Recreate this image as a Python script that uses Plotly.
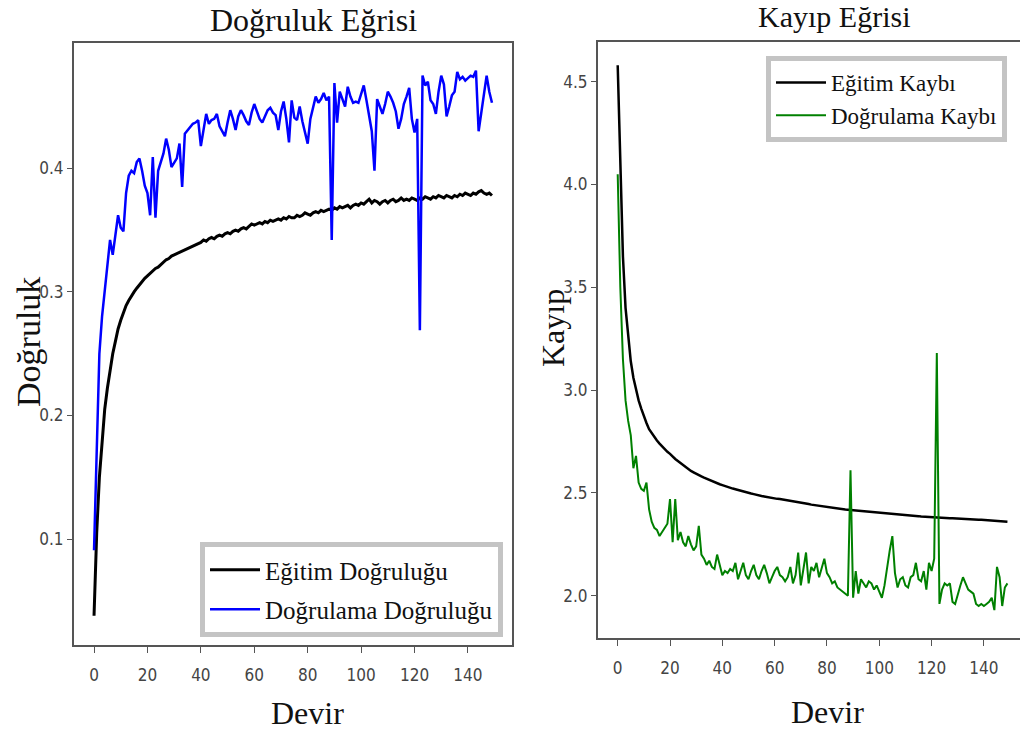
import plotly.graph_objects as go

# ---------------- data ----------------
epochs = list(range(150))

train_acc = [
    0.038, 0.105, 0.150, 0.182, 0.205, 0.222, 0.237, 0.250, 0.260, 0.270,
    0.277, 0.284, 0.289, 0.293, 0.297, 0.300, 0.303, 0.306, 0.309, 0.311,
    0.313, 0.315, 0.317, 0.319, 0.320, 0.322, 0.324, 0.326, 0.327, 0.329,
    0.330, 0.331, 0.332, 0.333, 0.334, 0.335, 0.336, 0.337, 0.338, 0.339,
    0.340, 0.342, 0.341, 0.343, 0.344, 0.343, 0.345, 0.346, 0.345, 0.347,
    0.348, 0.347, 0.349, 0.350, 0.349, 0.351, 0.352, 0.351, 0.353, 0.355,
    0.354, 0.355, 0.356, 0.355, 0.357, 0.356, 0.358, 0.357, 0.358, 0.359,
    0.358, 0.360, 0.359, 0.361, 0.360, 0.360, 0.362, 0.361, 0.362, 0.364,
    0.363, 0.362, 0.364, 0.365, 0.364, 0.366, 0.365, 0.366, 0.367, 0.366,
    0.368, 0.367, 0.369, 0.368, 0.369, 0.370, 0.368, 0.370, 0.371, 0.370,
    0.372, 0.371, 0.373, 0.375, 0.372, 0.374, 0.373, 0.371, 0.373, 0.374,
    0.372, 0.374, 0.375, 0.373, 0.374, 0.376, 0.374, 0.375, 0.374, 0.376,
    0.375, 0.374, 0.376, 0.375, 0.377, 0.376, 0.375, 0.377, 0.376, 0.378,
    0.377, 0.376, 0.378, 0.377, 0.376, 0.378, 0.377, 0.379, 0.378, 0.380,
    0.379, 0.378, 0.380, 0.379, 0.381, 0.382, 0.380, 0.379, 0.380, 0.378,
]

val_acc = [
    0.091, 0.175, 0.250, 0.280, 0.300, 0.318, 0.342, 0.330, 0.348, 0.362,
    0.352, 0.349, 0.380, 0.394, 0.398, 0.396, 0.405, 0.408, 0.398, 0.386,
    0.380, 0.362, 0.409, 0.360, 0.398, 0.405, 0.412, 0.424, 0.415, 0.401,
    0.404, 0.408, 0.420, 0.385, 0.428, 0.431, 0.434, 0.436, 0.437, 0.439,
    0.418, 0.430, 0.444, 0.436, 0.439, 0.440, 0.444, 0.434, 0.430, 0.426,
    0.437, 0.447, 0.440, 0.431, 0.442, 0.447, 0.443, 0.438, 0.435, 0.445,
    0.452, 0.446, 0.440, 0.437, 0.442, 0.447, 0.449, 0.445, 0.443, 0.431,
    0.446, 0.454, 0.440, 0.421, 0.455, 0.441, 0.439, 0.450, 0.438, 0.430,
    0.420, 0.440, 0.450, 0.458, 0.453, 0.456, 0.461, 0.455, 0.458, 0.342,
    0.469, 0.437, 0.462, 0.455, 0.450, 0.466, 0.458, 0.453, 0.454, 0.453,
    0.460, 0.467, 0.455, 0.441, 0.430, 0.398, 0.456, 0.450, 0.444, 0.452,
    0.462, 0.458, 0.453, 0.446, 0.432, 0.440, 0.452, 0.458, 0.465, 0.440,
    0.429, 0.440, 0.269, 0.475, 0.467, 0.470, 0.455, 0.452, 0.444, 0.462,
    0.475, 0.468, 0.442, 0.450, 0.459, 0.462, 0.478, 0.472, 0.474, 0.471,
    0.473, 0.475, 0.474, 0.479, 0.430, 0.445, 0.462, 0.475, 0.462, 0.453,
]

train_loss = [
    4.580, 4.050, 3.650, 3.400, 3.250, 3.140, 3.060, 3.000, 2.950, 2.910,
    2.870, 2.840, 2.810, 2.790, 2.770, 2.755, 2.740, 2.725, 2.710, 2.700,
    2.690, 2.675, 2.665, 2.655, 2.645, 2.635, 2.625, 2.615, 2.607, 2.600,
    2.592, 2.586, 2.580, 2.574, 2.568, 2.562, 2.557, 2.552, 2.547, 2.542,
    2.538, 2.533, 2.530, 2.525, 2.521, 2.518, 2.514, 2.511, 2.507, 2.504,
    2.500, 2.497, 2.494, 2.490, 2.488, 2.485, 2.483, 2.480, 2.478, 2.476,
    2.473, 2.471, 2.470, 2.468, 2.466, 2.465, 2.463, 2.460, 2.458, 2.455,
    2.453, 2.450, 2.448, 2.446, 2.443, 2.441, 2.439, 2.437, 2.434, 2.432,
    2.430, 2.429, 2.427, 2.425, 2.424, 2.422, 2.421, 2.419, 2.418, 2.417,
    2.415, 2.414, 2.412, 2.411, 2.410, 2.409, 2.407, 2.406, 2.405, 2.404,
    2.403, 2.402, 2.401, 2.400, 2.399, 2.398, 2.396, 2.395, 2.394, 2.393,
    2.392, 2.391, 2.390, 2.389, 2.388, 2.387, 2.385, 2.384, 2.383, 2.383,
    2.382, 2.381, 2.380, 2.380, 2.379, 2.378, 2.378, 2.377, 2.377, 2.376,
    2.375, 2.375, 2.374, 2.373, 2.373, 2.372, 2.372, 2.371, 2.370, 2.370,
    2.369, 2.369, 2.368, 2.367, 2.366, 2.365, 2.364, 2.363, 2.362, 2.360,
]

val_loss = [
    4.05, 3.50, 3.15, 2.95, 2.85, 2.78, 2.62, 2.68, 2.55, 2.52,
    2.51, 2.55, 2.42, 2.36, 2.33, 2.32, 2.29, 2.31, 2.33, 2.35,
    2.47, 2.26, 2.47, 2.27, 2.31, 2.26, 2.24, 2.29, 2.25, 2.22,
    2.24, 2.34, 2.20, 2.18, 2.15, 2.17, 2.14, 2.13, 2.20, 2.15,
    2.10, 2.12, 2.11, 2.13, 2.12, 2.16, 2.08, 2.12, 2.16, 2.10,
    2.08, 2.12, 2.15, 2.10, 2.08, 2.12, 2.15, 2.11, 2.06, 2.09,
    2.12, 2.14, 2.10, 2.09, 2.07, 2.09, 2.14, 2.06, 2.10, 2.21,
    2.05, 2.13, 2.21, 2.06, 2.14, 2.12, 2.16, 2.09, 2.13, 2.18,
    2.11, 2.09, 2.06, 2.07, 2.04, 2.03, 2.02, 2.01, 2.00, 2.61,
    1.99, 2.12, 2.01, 2.08, 2.06, 2.04, 2.07, 2.06, 2.03, 2.05,
    2.02, 1.99, 2.05, 2.14, 2.22, 2.29, 2.11, 2.04, 2.08, 2.09,
    2.05, 2.04, 2.09, 2.10, 2.16, 2.08, 2.07, 2.12, 2.03, 2.16,
    2.12, 2.18, 3.18, 1.96, 2.03, 2.06, 2.05, 2.06, 1.97, 1.96,
    2.01, 2.05, 2.09, 2.06, 2.03, 2.02, 2.01, 1.96, 1.95, 1.96,
    1.95, 1.96, 1.97, 1.99, 1.93, 2.14, 2.09, 1.95, 2.04, 2.06,
]

x_ticks = [0, 20, 40, 60, 80, 100, 120, 140]
acc_ticks = [0.1, 0.2, 0.3, 0.4]
acc_tick_text = ["0.1", "0.2", "0.3", "0.4"]
loss_ticks = [2.0, 2.5, 3.0, 3.5, 4.0, 4.5]
loss_tick_text = ["2.0", "2.5", "3.0", "3.5", "4.0", "4.5"]

# ---------------- figure ----------------
W, H = 1020, 733
SERIF = "Liberation Serif, Times New Roman, serif"
NARROW = "Liberation Sans Narrow, DejaVu Sans Condensed, Arial Narrow, DejaVu Sans, sans-serif"
TXT = "#111111"
SPINE = "#555555"

fig = go.Figure()

fig.add_trace(go.Scatter(x=epochs, y=train_acc, mode="lines", name="Eğitim Doğruluğu",
                         line=dict(color="#000000", width=3), xaxis="x", yaxis="y",
                         legend="legend", legendgroup="a1"))
fig.add_trace(go.Scatter(x=epochs, y=val_acc, mode="lines", name="Doğrulama Doğruluğu",
                         line=dict(color="#0000ff", width=2.5), xaxis="x", yaxis="y",
                         legend="legend", legendgroup="a2"))
fig.add_trace(go.Scatter(x=epochs, y=train_loss, mode="lines", name="Eğitim Kaybı",
                         line=dict(color="#000000", width=2.5), xaxis="x2", yaxis="y2",
                         legend="legend2", legendgroup="l1"))
fig.add_trace(go.Scatter(x=epochs, y=val_loss, mode="lines", name="Doğrulama Kaybı",
                         line=dict(color="#008000", width=2), xaxis="x2", yaxis="y2",
                         legend="legend2", legendgroup="l2"))

tickfont = dict(family=NARROW, size=17, color="#444444")

def px_x(p):
    return p / W

def px_y(p):
    return 1 - p / H

fig.update_layout(
    width=W, height=H,
    margin=dict(l=0, r=0, t=0, b=0),
    paper_bgcolor="white", plot_bgcolor="white",
    showlegend=True,
    xaxis=dict(domain=[px_x(74), px_x(512)], range=[-7.5, 156.5], anchor="y",
               tickvals=x_ticks, ticks="outside", ticklen=6, tickcolor=SPINE,
               showline=True, linecolor=SPINE, linewidth=2, mirror=True,
               showgrid=False, zeroline=False, tickfont=tickfont,
               ticklabelstandoff=8),
    yaxis=dict(domain=[px_y(645), px_y(43)], range=[0.01433, 0.50138], anchor="x",
               tickvals=acc_ticks, ticktext=acc_tick_text, ticks="outside", ticklen=5,
               tickcolor=SPINE, showline=True, linecolor=SPINE, linewidth=2,
               mirror=True, showgrid=False, zeroline=False, tickfont=tickfont),
    xaxis2=dict(domain=[px_x(598), 1.0], range=[-7.53, 153.8], anchor="y2",
                tickvals=x_ticks, ticks="outside", ticklen=6, tickcolor=SPINE,
                showline=True, linecolor=SPINE, linewidth=2, mirror=True,
                showgrid=False, zeroline=False, tickfont=tickfont,
                ticklabelstandoff=8),
    yaxis2=dict(domain=[px_y(638), px_y(42)], range=[1.7943, 4.693], anchor="x2",
                tickvals=loss_ticks, ticktext=loss_tick_text, ticks="outside",
                ticklen=5, tickcolor=SPINE, showline=True, linecolor=SPINE,
                linewidth=2, mirror=False, showgrid=False, zeroline=False,
                tickfont=tickfont),
    legend=dict(x=px_x(200), y=px_y(542), xanchor="left", yanchor="top",
                bgcolor="white", bordercolor="#c4c4c4", borderwidth=5,
                tracegroupgap=4, itemwidth=50,
                font=dict(family=SERIF, size=25, color=TXT)),
    legend2=dict(x=px_x(766), y=px_y(56), xanchor="left", yanchor="top",
                 bgcolor="white", bordercolor="#c4c4c4", borderwidth=5,
                 tracegroupgap=0, itemwidth=50,
                 font=dict(family=SERIF, size=23, color=TXT)),
)

annots = [
    dict(text="Doğruluk Eğrisi", x=px_x(313), y=px_y(20), size=32, angle=0),
    dict(text="Kayıp Eğrisi", x=px_x(834), y=px_y(17), size=30, angle=0),
    dict(text="Devir", x=px_x(307), y=px_y(713), size=32, angle=0),
    dict(text="Devir", x=px_x(827), y=px_y(712), size=32, angle=0),
    dict(text="Doğruluk", x=px_x(28), y=px_y(342), size=34, angle=-90),
    dict(text="Kayıp", x=px_x(553), y=px_y(328), size=32, angle=-90),
]
for a in annots:
    fig.add_annotation(text=a["text"], x=a["x"], y=a["y"], xref="paper", yref="paper",
                       xanchor="center", yanchor="middle", showarrow=False,
                       textangle=a["angle"],
                       font=dict(family=SERIF, size=a["size"], color=TXT))

fig.write_html("out.html", config={"displayModeBar": False},
               post_script="document.body.style.margin='0';document.body.style.overflow='hidden';")
